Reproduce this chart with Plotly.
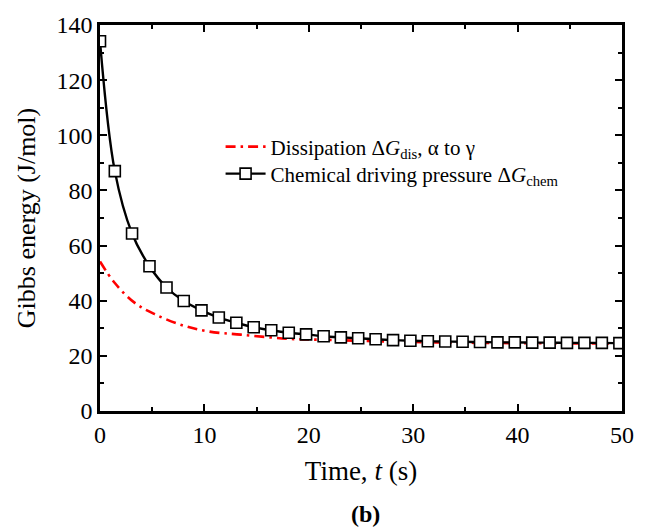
import plotly.graph_objects as go

# Chemical driving pressure (black, square markers)
chem_t = [0.0, 1.42, 3.07, 4.74, 6.37, 8.02, 9.72, 11.38, 13.06, 14.72, 16.4, 18.08,
          19.74, 21.42, 23.07, 24.73, 26.4, 28.07, 29.73, 31.4, 33.07, 34.73, 36.4,
          38.07, 39.73, 41.4, 43.07, 44.73, 46.4, 48.07, 49.75]
chem_g = [134.1, 87.0, 64.4, 52.5, 44.8, 39.9, 36.5, 33.9, 32.0, 30.4, 29.3, 28.4,
          27.8, 27.1, 26.7, 26.4, 26.0, 25.7, 25.5, 25.3, 25.2, 25.1, 25.0,
          24.9, 24.9, 24.8, 24.8, 24.7, 24.7, 24.7, 24.6]

# Dissipation (red dash-dot)
dis_t = [0.0, 1.4, 3.3, 5.2, 7.8, 10.3, 13.5, 18.0, 21.8, 30.0, 40.0, 50.0]
dis_g = [54.2, 46.5, 39.3, 35.2, 31.2, 28.9, 27.7, 26.2, 25.8, 25.0, 24.6, 24.5]

x_ticks = [0, 10, 20, 30, 40, 50]
y_ticks = [0, 20, 40, 60, 80, 100, 120, 140]

FONT = "Liberation Serif"
LEG_FONT = dict(family=FONT, size=21, color="black")

fig = go.Figure()
fig.add_trace(go.Scatter(
    x=dis_t, y=dis_g, mode="lines", line_shape="spline",
    line=dict(color="#ff0000", width=2.6, dash="10px,5px,2.5px,5px"),
    name="Dissipation Δ<i>G</i><sub>dis</sub>, α to γ",
    legend="legend",
))
fig.add_trace(go.Scatter(
    x=chem_t, y=chem_g, mode="lines+markers", line_shape="spline",
    line=dict(color="black", width=2.4),
    marker=dict(symbol="square", size=11, color="white",
                line=dict(color="black", width=1.6)),
    name="Chemical driving pressure Δ<i>G</i><sub>chem</sub>",
    legend="legend2",
))

axis_common = dict(
    showline=True, linecolor="black", linewidth=2.5, mirror="ticks",
    ticks="inside", ticklen=7, tickwidth=2, tickcolor="black",
    showgrid=False, zeroline=False,
    tickfont=dict(family=FONT, size=24, color="black"),
)

fig.update_xaxes(
    range=[0, 50], tickvals=x_ticks,
    minor=dict(ticks="inside", ticklen=4, tickwidth=2, tickcolor="black", dtick=5),
    title=dict(text="Time, <i>t</i> (s)", font=dict(family=FONT, size=27, color="black"), standoff=15),
    **axis_common,
)
fig.update_yaxes(
    range=[0, 140], tickvals=y_ticks,
    minor=dict(ticks="inside", ticklen=4, tickwidth=2, tickcolor="black", dtick=10),
    title=dict(text="Gibbs energy (J/mol)", font=dict(family=FONT, size=26, color="black"), standoff=14),
    **axis_common,
)

leg_common = dict(xanchor="left", yanchor="middle", bgcolor="rgba(0,0,0,0)",
                  font=LEG_FONT, itemwidth=40)
fig.update_layout(
    width=646, height=531,
    margin=dict(l=100, r=19, t=22, b=120),
    paper_bgcolor="white", plot_bgcolor="white",
    showlegend=True,
    legend=dict(x=0.231, y=0.684, **leg_common),
    legend2=dict(x=0.231, y=0.614, **leg_common),
    annotations=[dict(text="<b>(b)</b>", xref="paper", yref="paper", x=0.509, y=-0.268,
                      xanchor="center", yanchor="middle", showarrow=False,
                      font=dict(family=FONT, size=24, color="black"))],
)

fig.write_html("out.html")
